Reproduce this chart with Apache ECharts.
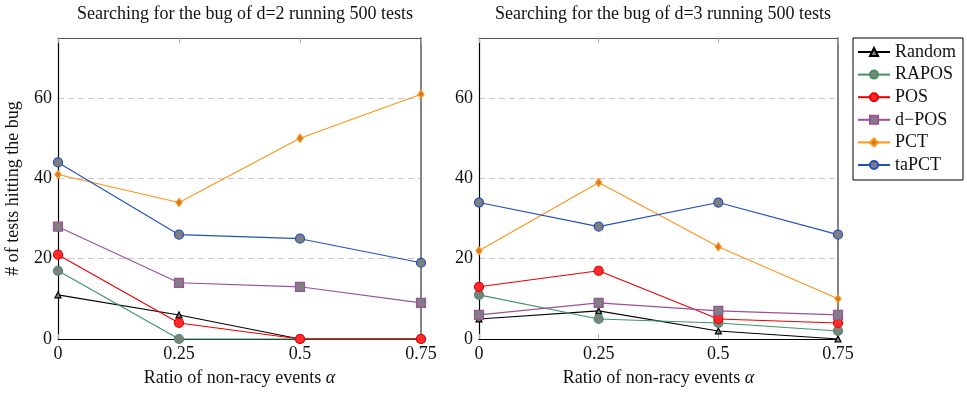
<!DOCTYPE html>
<html><head><meta charset="utf-8">
<script src="https://cdn.jsdelivr.net/npm/echarts@6/dist/echarts.min.js"></script>
<style>html,body{margin:0;padding:0;background:#fff}#c{width:967px;height:393px}</style>
</head><body><div id="c"></div>
<script>
const xTicks = [0, 0.25, 0.5, 0.75];
const seriesNames = ['Random', 'RAPOS', 'POS', 'd\u2212POS', 'PCT', 'taPCT'];
// d=2 panel
const d2_random = [11, 6, 0, 0];
const d2_rapos  = [17, 0, 0, 0];
const d2_pos    = [21, 4, 0, 0];
const d2_dpos   = [28, 14, 13, 9];
const d2_pct    = [41, 34, 50, 61];
const d2_tapct  = [44, 26, 25, 19];
// d=3 panel
const d3_random = [5, 7, 2, 0];
const d3_rapos  = [11, 5, 4, 2];
const d3_pos    = [13, 17, 5, 4];
const d3_dpos   = [6, 9, 7, 6];
const d3_pct    = [22, 39, 23, 10];
const d3_tapct  = [34, 28, 34, 26];

const styles = [
  {color:'#000000', symbol:'triangle', size:6, fill:'#808080'},
  {color:'#3f9463', symbol:'circle', size:9, fill:'#7f7f7f'},
  {color:'#e80000', symbol:'circle', size:9, fill:'#ff2a2a'},
  {color:'#9c4f9c', symbol:'rect', size:9, fill:'#7f7f7f'},
  {color:'#ff9418', symbol:'diamond', size:[6,8], fill:'#d07a28'},
  {color:'#1f4fc0', symbol:'circle', size:9, fill:'#7f7f7f'}
];
const panels = [
  [d2_random, d2_rapos, d2_pos, d2_dpos, d2_pct, d2_tapct],
  [d3_random, d3_rapos, d3_pos, d3_dpos, d3_pct, d3_tapct]
];
const font = 'Liberation Serif';
const fs = 18;
const grids = [
  {left:58, right:546, top:38, bottom:54},
  {left:479, right:129, top:38, bottom:54}
];
const xAxes = [], yAxes = [];
[0,1].forEach(i=>{
  xAxes.push({type:'value', gridIndex:i, position:'bottom', min:0, max:0.75, interval:0.25,
    axisLine:{show:true, onZero:false, lineStyle:{color:'#000', width:1.2}},
    axisTick:{show:true, inside:true, length:5, lineStyle:{color:'#aaa'}},
    axisLabel:{color:'#111', fontFamily:font, fontSize:fs, margin:6},
    splitLine:{show:false},
    name:'Ratio of non-racy events {i|\u03b1}', nameLocation:'middle', nameGap:30,
    nameTextStyle:{color:'#111', fontFamily:font, fontSize:fs, rich:{i:{fontFamily:font, fontStyle:'italic', fontSize:fs, color:'#111'}}}
  });
  xAxes.push({type:'value', gridIndex:i, position:'top', min:0, max:0.75, interval:0.25,
    axisLine:{show:true, onZero:false, lineStyle:{color:'#555', width:1.2}},
    axisTick:{show:true, inside:true, length:5, lineStyle:{color:'#aaa'}},
    axisLabel:{show:false}, splitLine:{show:false}});
  yAxes.push({type:'value', gridIndex:i, position:'left', min:0, max:75, interval:20,
    axisLine:{show:true, onZero:false, lineStyle:{color:'#000', width:1.2}},
    axisTick:{show:false},
    axisLabel:{color:'#111', fontFamily:font, fontSize:fs, margin:6, showMaxLabel:false},
    splitLine:{show:true, lineStyle:{color:'#c8c8c8', type:[6,4], width:1}},
    name: i===0 ? '# of tests hitting the bug' : '', nameLocation:'middle', nameGap:36,
    nameTextStyle:{color:'#111', fontFamily:font, fontSize:fs}
  });
  yAxes.push({type:'value', gridIndex:i, position:'right', min:0, max:75, interval:20,
    axisLine:{show:true, onZero:false, lineStyle:{color:'#777', width:1.8}},
    axisTick:{show:false},
    axisLabel:{show:false}, splitLine:{show:false}});
});
const series = [];
panels.forEach((p, pi)=>{
  p.forEach((vals, si)=>{
    const s = styles[si];
    series.push({
      type:'line', name:seriesNames[si], xAxisIndex:pi*2, yAxisIndex:pi*2,
      data: xTicks.map((x,k)=>[x, vals[k]]),
      symbol:s.symbol, symbolSize:s.size, showAllSymbol:true, clip:false,
      lineStyle:{color:s.color, width:1.1},
      itemStyle:{color:s.fill, borderColor:s.color, borderWidth:1.2},
      z: 2 + si, animation:false
    });
  });
});
const chart = echarts.init(document.getElementById('c'), null, {renderer:'canvas'});
chart.setOption({
  animation:false,
  title:[
    {text:'Searching for the bug of d=2 running 500 tests', left:240, top:0, textAlign:'center',
     textStyle:{fontFamily:font, fontWeight:'normal', fontSize:fs, color:'#111'}},
    {text:'Searching for the bug of d=3 running 500 tests', left:658, top:0, textAlign:'center',
     textStyle:{fontFamily:font, fontWeight:'normal', fontSize:fs, color:'#111'}}
  ],
  grid:grids, xAxis:xAxes, yAxis:yAxes,
  legend:{data:seriesNames, orient:'vertical', left:853, top:38, width:109,
    padding:[5,6,6,4], itemGap:4.6, itemWidth:32, itemHeight:10,
    borderColor:'#000', borderWidth:1,
    textStyle:{fontFamily:font, fontSize:fs, color:'#111', width:62, align:'center', lineHeight:18}},
  series:series
});
</script></body></html>
